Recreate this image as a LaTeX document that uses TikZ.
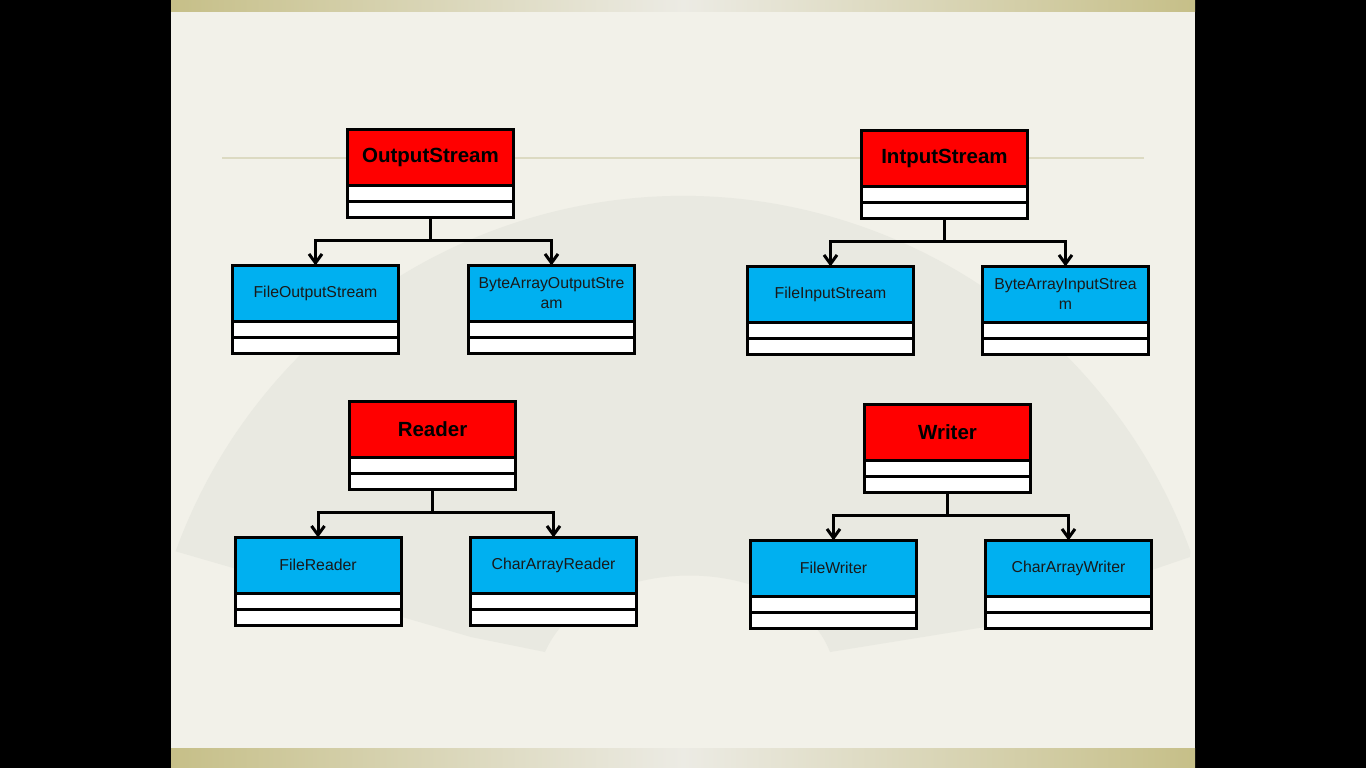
\documentclass[tikz,border=0pt]{standalone}
\usepackage{fontspec}
\setmainfont{Liberation Sans}
\usetikzlibrary{arrows.meta}
\definecolor{slidebg}{HTML}{F2F1E9}
\definecolor{fancol}{HTML}{E9E9E1}
\definecolor{barend}{HTML}{C6BF88}
\definecolor{barmid}{HTML}{ECEBE4}
\definecolor{rulecol}{HTML}{DCDAC2}
\definecolor{headred}{HTML}{FF0000}
\definecolor{kidblue}{HTML}{00B0F0}
\newcommand\umlbox[5]{%
  \node[#2, anchor=north] (#1) at (#3,#4) {#5};
  \node[slot, anchor=north] (#1a) at (#1.south) {};
  \node[slot, anchor=north] (#1b) at (#1a.south) {};
}
\tikzset{
  boxbase/.style={draw=black, line width=3pt, minimum width=166pt, inner sep=0pt, outer sep=0pt},
  head/.style={boxbase, fill=headred, minimum height=55.5pt, text=black, font=\fontsize{20.5}{24}\selectfont\bfseries},
  kid/.style={boxbase, fill=kidblue, minimum height=55.5pt, text=black!90, align=center, font=\fontsize{15.8}{20}\selectfont},
  slot/.style={boxbase, fill=white, minimum height=16pt},
  conn/.style={draw=black, line width=3pt},
  inherit/.style={conn, -{Straight Barb[length=9pt, width=13pt]}}
}
\begin{document}
\begin{tikzpicture}[x=1pt, y=-1pt]
\useasboundingbox (0,0) rectangle (1366,768);
% background
\fill[black] (0,0) rectangle (1366,768);
\fill[slidebg] (171,0) rectangle (1195,768);
\shade[left color=barend, right color=barend, middle color=barmid] (171,0) rectangle (1195,12);
\shade[left color=barend, right color=barend, middle color=barmid] (171,748) rectangle (1195,768);
% fan
\fill[fancol] (175.6,551.3) arc[start angle=-160, end angle=-20, radius=540]
  -- (1190,557) -- (985,627) -- (830,652)
  .. controls (790,550) and (590,550) .. (545,652)
  -- (471,637) -- cycle;
\draw[rulecol, line width=2pt] (222,158) -- (1144,158);
% classes
\umlbox{os}{head}{430.5}{129.5}{OutputStream}
\umlbox{is}{head}{944.5}{130.5}{IntputStream}
\umlbox{fos}{kid}{315.5}{265.5}{FileOutputStream}
\umlbox{baos}{kid}{551.5}{265.5}{ByteArrayOutputStre\\am}
\umlbox{fis}{kid}{830.5}{266.5}{FileInputStream}
\umlbox{bais}{kid}{1065.5}{266.5}{ByteArrayInputStrea\\m}
\umlbox{rd}{head}{432.5}{401.5}{Reader}
\umlbox{wr}{head}{947.5}{404.5}{Writer}
\umlbox{frd}{kid}{318}{537.5}{FileReader}
\umlbox{card}{kid}{553.5}{537.5}{CharArrayReader}
\umlbox{fwr}{kid}{833.5}{540.5}{FileWriter}
\umlbox{cawr}{kid}{1068.5}{540.5}{CharArrayWriter}
% connectors
\coordinate (osj) at (osb.south |- 0,240);
\coordinate (isj) at (isb.south |- 0,241);
\coordinate (rdj) at (rdb.south |- 0,512);
\coordinate (wrj) at (wrb.south |- 0,515);
\draw[conn] (osb.south) -- (osj);
\draw[inherit] (osj) -| (fos.north);
\draw[inherit] (osj) -| (baos.north);
\draw[conn] (isb.south) -- (isj);
\draw[inherit] (isj) -| (fis.north);
\draw[inherit] (isj) -| (bais.north);
\draw[conn] (rdb.south) -- (rdj);
\draw[inherit] (rdj) -| (frd.north);
\draw[inherit] (rdj) -| (card.north);
\draw[conn] (wrb.south) -- (wrj);
\draw[inherit] (wrj) -| (fwr.north);
\draw[inherit] (wrj) -| (cawr.north);
\end{tikzpicture}
\end{document}
